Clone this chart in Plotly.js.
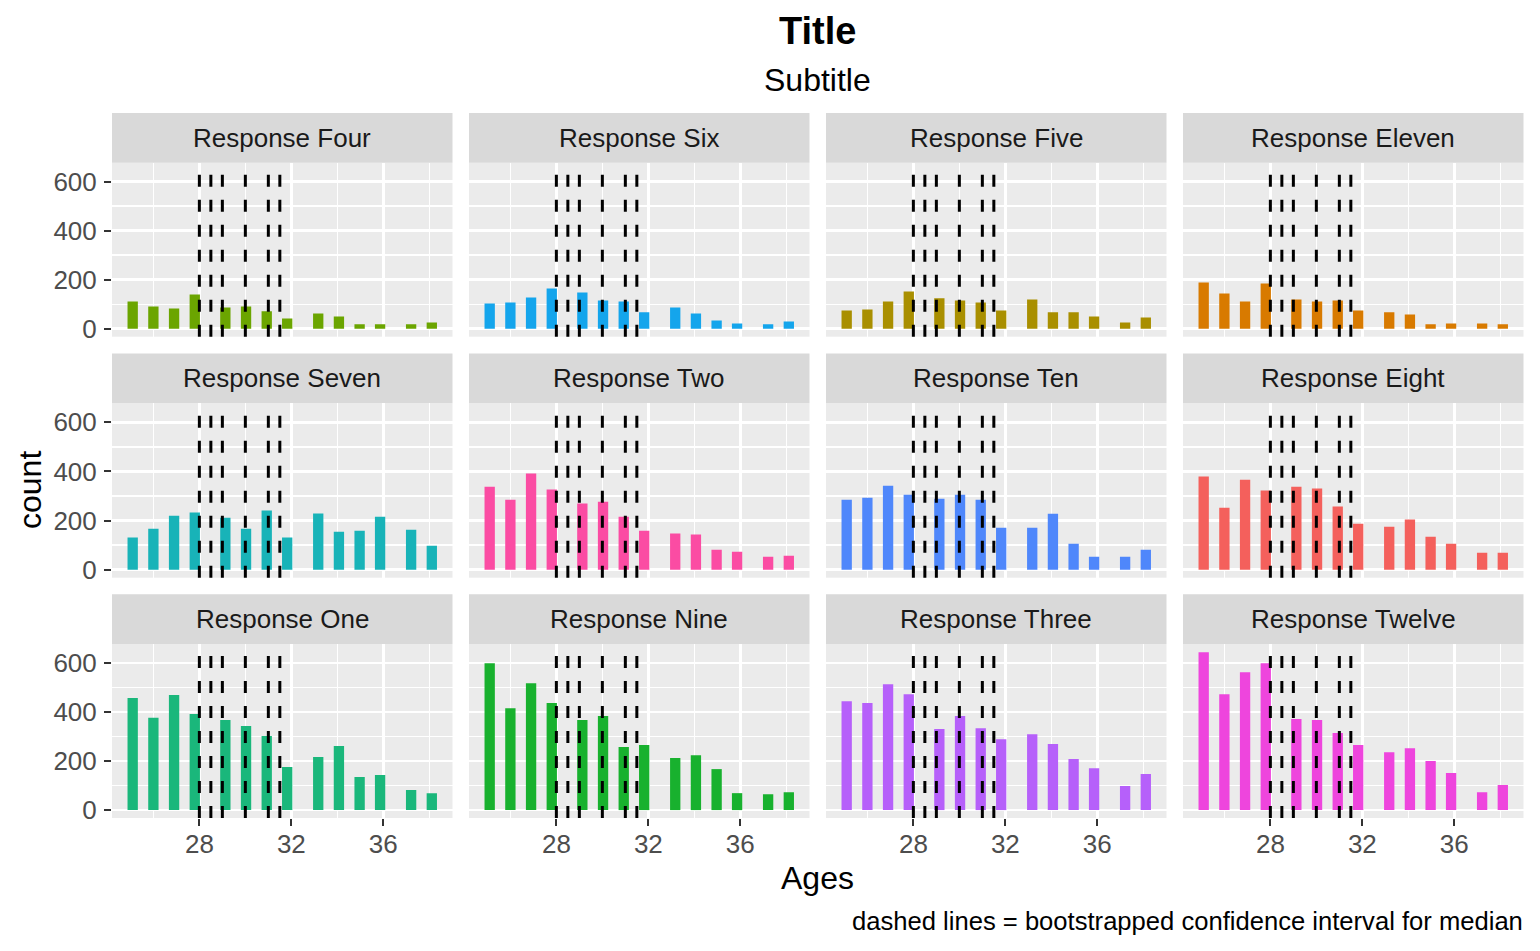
<!DOCTYPE html>
<html>
<head>
<meta charset="utf-8">
<script src="https://cdn.plot.ly/plotly-3.0.1.min.js"></script>
<style>
  html, body { margin: 0; padding: 0; background: #ffffff; }
  #chart { width: 1540px; height: 951px; }
</style>
</head>
<body>
<div id="chart"></div>
<script>
// Histogram bin centres (Ages) shared by every facet
const ageBins = [25.10, 26.00, 26.90, 27.80, 29.13, 30.03, 30.93, 31.82, 33.17, 34.07, 34.97, 35.86, 37.21, 38.11];
const binWidth = 0.449;

// Counts per bin, one array per response
const responseFour   = [111, 91, 83, 140, 87, 91, 71, 42, 62, 50, 18, 18, 18, 26];
const responseSix    = [103, 107, 128, 164, 148, 115, 111, 67, 87, 62, 34, 22, 18, 30];
const responseFive   = [75, 79, 111, 152, 124, 115, 107, 75, 119, 67, 67, 50, 26, 46];
const responseEleven = [189, 144, 111, 185, 119, 111, 115, 75, 67, 58, 18, 22, 22, 18];
const responseSeven  = [131, 167, 220, 233, 212, 167, 241, 131, 229, 155, 159, 216, 163, 98];
const responseTwo    = [338, 285, 391, 326, 269, 277, 216, 159, 147, 143, 81, 73, 53, 57];
const responseTen    = [285, 293, 342, 305, 289, 305, 285, 171, 171, 228, 106, 53, 53, 81];
const responseEight  = [379, 252, 366, 322, 338, 330, 257, 187, 175, 204, 134, 106, 69, 69];
const responseOne    = [457, 376, 469, 392, 367, 343, 302, 176, 216, 261, 135, 143, 82, 69];
const responseNine   = [599, 415, 517, 436, 367, 383, 257, 265, 212, 224, 167, 69, 65, 73];
const responseThree  = [444, 436, 513, 472, 330, 383, 334, 289, 309, 269, 208, 171, 98, 147];
const responseTwelve = [643, 472, 562, 599, 371, 367, 314, 265, 236, 252, 200, 151, 73, 102];

// Facet order (row by row) and labels
const facetLabels = [
  'Response Four', 'Response Six', 'Response Five', 'Response Eleven',
  'Response Seven', 'Response Two', 'Response Ten', 'Response Eight',
  'Response One', 'Response Nine', 'Response Three', 'Response Twelve'
];
const facetCounts = [
  responseFour, responseSix, responseFive, responseEleven,
  responseSeven, responseTwo, responseTen, responseEight,
  responseOne, responseNine, responseThree, responseTwelve
];
const facetColors = [
  '#6BA500', '#14A5EC', '#A98F00', '#D87A00',
  '#18B3B8', '#FB4CA3', '#4F87FB', '#F4605C',
  '#1AB77B', '#18B12E', '#B660FA', '#EE45DD'
];

// Bootstrapped confidence bounds for the median (dashed verticals)
const ciBounds = [28, 28.5, 29, 30, 31, 31.5];

// Axis ticks
const xTicks = [28, 32, 36];
const yTicks = [0, 200, 400, 600];

// ---- panel geometry (pixels) ----
const W = 1540, H = 951;
const colLeft  = [112, 469, 826, 1183];
const colRight = [452.5, 809.5, 1166.5, 1523.5];
const rowTop    = [162.7, 403.3, 644];
const rowBottom = [336.7, 577.7, 818];
const stripH = 49.7;

const FONT = 'Liberation Sans, Arial, Helvetica, sans-serif';
const SMALL = 26, MEDIUM = 32, LARGE = 38;

const data = [];
const layout = {
  width: W, height: H,
  margin: {l: 0, r: 0, t: 0, b: 0},
  paper_bgcolor: '#FFFFFF',
  plot_bgcolor: '#EBEBEB',
  showlegend: false,
  font: {family: FONT, color: '#000000'},
  title: {
    text: '<b>Title</b>',
    font: {family: FONT, size: LARGE, color: '#000000'},
    x: 817.75 / W, xanchor: 'center', xref: 'paper',
    y: 1 - 31 / H, yanchor: 'middle', yref: 'container'
  },
  shapes: [],
  annotations: []
};

facetLabels.forEach((label, i) => {
  const r = Math.floor(i / 4), c = i % 4;
  const idx = i === 0 ? '' : String(i + 1);
  const xa = 'x' + idx, ya = 'y' + idx;

  data.push({
    type: 'bar',
    x: ageBins,
    y: facetCounts[i],
    width: ageBins.map(() => binWidth),
    marker: {color: facetColors[i], line: {width: 0}},
    xaxis: xa, yaxis: ya,
    hoverinfo: 'x+y',
    name: label
  });

  const bottomRow = r === 2, leftCol = c === 0;
  layout['xaxis' + idx] = {
    domain: [colLeft[c] / W, colRight[c] / W],
    anchor: ya,
    range: [24.2, 39.01],
    tickvals: xTicks,
    ticktext: xTicks.map(String),
    showticklabels: bottomRow,
    ticks: bottomRow ? 'outside' : '',
    ticklen: 7, tickwidth: 2, tickcolor: '#333333',
    ticklabelstandoff: -4,
    tickfont: {family: FONT, size: SMALL, color: '#4D4D4D'},
    showgrid: true, gridcolor: '#FFFFFF', gridwidth: 2.7,
    minor: {tickvals: [26, 30, 34, 38], showgrid: true, gridcolor: '#FFFFFF', gridwidth: 1.4, ticks: ''},
    zeroline: false, showline: false, fixedrange: true
  };
  layout['yaxis' + idx] = {
    domain: [1 - rowBottom[r] / H, 1 - rowTop[r] / H],
    anchor: xa,
    range: [-32.3, 677],
    tickvals: yTicks,
    ticktext: yTicks.map(String),
    showticklabels: leftCol,
    ticks: leftCol ? 'outside' : '',
    ticklen: 7, tickwidth: 2, tickcolor: '#333333',
    ticklabelstandoff: 2,
    tickfont: {family: FONT, size: SMALL, color: '#4D4D4D'},
    showgrid: true, gridcolor: '#FFFFFF', gridwidth: 2.7,
    minor: {tickvals: [100, 300, 500], showgrid: true, gridcolor: '#FFFFFF', gridwidth: 1.4, ticks: ''},
    zeroline: true, zerolinecolor: '#FFFFFF', zerolinewidth: 2.7,
    showline: false, fixedrange: true
  };

  // strip background and label
  layout.shapes.push({
    type: 'rect', xref: 'paper', yref: 'paper',
    x0: colLeft[c] / W, x1: colRight[c] / W,
    y0: 1 - rowTop[r] / H, y1: 1 - (rowTop[r] - stripH) / H,
    fillcolor: '#D9D9D9', line: {width: 0}, layer: 'below'
  });
  layout.annotations.push({
    xref: 'paper', yref: 'paper',
    x: (colLeft[c] + colRight[c]) / 2 / W,
    y: 1 - (rowTop[r] - stripH / 2) / H,
    xanchor: 'center', yanchor: 'middle',
    text: label, showarrow: false,
    font: {family: FONT, size: SMALL, color: '#1A1A1A'}
  });

  // dashed confidence-interval lines, drawn bottom to top
  ciBounds.forEach(v => {
    layout.shapes.push({
      type: 'line', xref: xa, yref: ya + ' domain',
      x0: v, x1: v, y0: 0, y1: 1,
      line: {color: '#000000', width: 3, dash: '12px,13px'},
      layer: 'above'
    });
  });
});

// subtitle, axis titles and caption
layout.annotations.push(
  {xref: 'paper', yref: 'paper', x: 817.75 / W, y: 1 - 80 / H, xanchor: 'center', yanchor: 'middle',
   text: 'Subtitle', showarrow: false, font: {family: FONT, size: MEDIUM, color: '#000000'}},
  {xref: 'paper', yref: 'paper', x: 817.75 / W, y: 1 - 878 / H, xanchor: 'center', yanchor: 'middle',
   text: 'Ages', showarrow: false, font: {family: FONT, size: MEDIUM, color: '#000000'}},
  {xref: 'paper', yref: 'paper', x: 30 / W, y: 1 - 490 / H, xanchor: 'center', yanchor: 'middle',
   text: 'count', textangle: -90, showarrow: false, font: {family: FONT, size: MEDIUM, color: '#000000'}},
  {xref: 'paper', yref: 'paper', x: 1525 / W, y: 1 - 921 / H, xanchor: 'right', yanchor: 'middle',
   text: 'dashed lines = bootstrapped confidence interval for median', showarrow: false,
   font: {family: FONT, size: 25.6, color: '#000000'}}
);

Plotly.newPlot('chart', data, layout, {displayModeBar: false, staticPlot: true});
</script>
</body>
</html>
